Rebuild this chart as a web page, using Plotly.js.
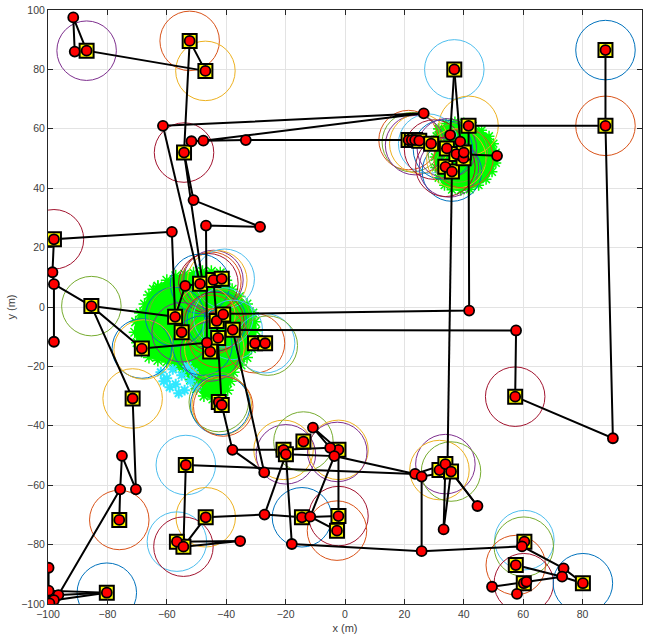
<!DOCTYPE html>
<html><head><meta charset="utf-8">
<script src="https://cdn.plot.ly/plotly-3.0.1.min.js"></script>
<style>html,body{margin:0;padding:0;background:#fff}#plot{width:649px;height:638px}</style>
</head><body><div id="plot"></div>
<script>
// ---- trajectory (strokes separated by null) ----
const pathX = [-91,-91.5,-87,-47,-52.3,-54.2,-51,-28.6,-46.8,-46.5,null,
  -61.3,26.5,-47.7,-33.4,21.4,null, -51.7,-47.7,null,
  -61.3,-48.8,null, -54.2,-48,null,
  -98,-98,-98.5,-98,-58.3,-57.2,-53.8,-48.8,null,
  -98,-85.4,-68.4,-46.5,null, -85.4,-57.2,null,
  -85.4,-71.5,-70.4,-75.1,-75.7,-76,null,
  -75.7,-96.5,-80.2,-99.8,-99.8,null, -80.2,-98,-99.5,-99.8,null,
  -44.3,-43.2,-41.5,-37.9,-27.2,null,
  -41,41.8,41.6,87.7,87.7,null,
  87.7,90.2,57.3,57.6,-37.8,-27.2,null,
  -37.9,-20.7,-5,-10.8,-2.2,-2.2,null,
  -19.9,-3.6,-11.7,-2.7,null, -3.6,23.6,null,
  -19.9,-17.9,25.8,25.8,35.7,null,
  -53.6,23.6,33.8,44.6,null, 35.7,44.6,null,
  33.2,33.8,null, 33.2,35.7,null, 36,34.5,null,
  -53.6,-54.4,-46.9,-27.1,-14.5,-2.2,null, -27.1,-19.9,null,
  -56.6,-35.3,-54.4,null,
  25.8,59.6,73.6,80.1,73.1,57.5,null, 49.5,61.1,73.1,null, 57.9,60.2,null,
  36.8,35.4,null, 36.8,38.8,null, 51.2,37.5,null, 25,34.3,null];
const pathY = [86,97.5,86.3,79.5,89.6,52,36,27,27.4,-12,null,
  61,65.2,56,56.2,56.2,null, 55.8,56,null,
  61,7.8,null, 52,8.5,null,
  -11.7,7.7,11.7,22.8,25.3,-3.3,7.1,7.8,null,
  7.7,0.3,-14,-12,null, 0.3,-3.3,null,
  0.3,-30.8,-61.4,-50.1,-61.4,-71.7,null,
  -61.4,-97,-96.2,-95.5,-87.8,null, -96.2,-98.7,-99.8,-95.5,null,
  9.1,-4.7,-33,-48.1,-55.7,null,
  -2.3,-1.2,61,61,86.5,null,
  61,-44.2,-30.2,-7.9,-7.7,-55.7,null,
  -48.1,-48.1,-47.4,-40.6,-48.1,-70.4,null,
  -49.6,-50.2,-70.6,-75.3,null, -50.2,-56.2,null,
  -49.6,-79.8,-82.2,-57.1,-55.4,null,
  -53.2,-56.2,-52.9,-67,null, -55.4,-67,null,
  -74.9,-52.9,null, -74.9,-55.4,null, 45.6,-53.5,null,
  -53.2,-80.7,-70.8,-69.9,-70.8,-70.4,null, -69.9,-49.6,null,
  -79,-78.8,-80.7,null,
  -82.2,-80.6,-88,-93,-90.8,-86.9,null, -94.2,-92.5,-90.8,null, -96.6,-93,null,
  80,57.9,null, 80,55.7,null, 50.9,51.5,null, 56,53.4,null];

// ---- yellow square targets ----
const sqX = [-87,-52.3,-47,-54.2,36.8,87.7,87.7,41.6,-98,-85.4,-68.4,-71.5,57.3,-76,-80.2,-53.6,-46.9,-56.6,-54.4,
  -20.7,-19.9,-14,-2.2,-14.5,-2.2,-2.7,31.8,33.8,35.7,60.4,57.5,60.2,80.1,
  -57.2,-55,-48.8,-44.3,-41.5,-43.2,-41,-37.8,-42.7,-45.4,-30.3,-26.9,-42.5,-41.5,
  21.4,22.5,23.6,25,29,34.3,33.8,36,37.5,39.9,40];
const sqY = [86.3,89.6,79.5,52,80,86.5,61,61,22.8,0.3,-14,-30.8,-30.2,-71.7,-96.2,-53.2,-70.8,-79,-80.7,
  -48.1,-49.6,-45.3,-48.1,-70.8,-70.4,-75.3,-54.9,-52.9,-55.4,-79,-86.9,-93,-93,
  -3.3,-8.5,7.8,9.1,9.5,-4.7,-2.5,-7.7,-10.4,-15,-12.2,-12.2,-32,-33,
  56.2,56.2,56.2,56,55,53.4,47.2,45.6,51.5,50.1,52];

// ---- red waypoints (not on squares) ----
const wpX = [-91.5,-91,-61.3,-51.7,-47.7,-33.4,-51,-46.8,-28.6,-58.3,-98.5,-98,-98,-53.8,-46.5,26.5,35.4,38.8,51.2,
  41.8,57.6,90.2,-75.1,-75.7,-70.4,-99.8,-99.8,-96.5,-98,-99.5,-37.9,-27.2,-10.8,-5,-3.6,-27.1,-11.7,-35.3,-17.9,
  23.6,25.8,25.8,33.2,44.6,59.6,49.5,57.9,73.6,73.1,61.1];
const wpY = [97.5,86,61,55.8,56,56.2,36,27.4,27,25.3,11.7,7.7,-11.7,7.1,-12,65.2,57.9,55.7,50.9,
  -1.2,-7.9,-44.2,-50.1,-61.4,-61.4,-87.8,-95.5,-97,-98.7,-99.8,-48.1,-55.7,-40.6,-47.4,-50.2,-69.9,-70.6,-78.8,-79.8,
  -56.2,-57.1,-82.2,-74.9,-67,-80.6,-94.2,-96.6,-88,-90.8,-92.5];

// ---- range circles (radius 10 m) ----
const cX = [-87,-52.3,-47,-54.2,36.8,87.7,87.7,41.6,-98,-85.4,-68.4,-67.8,-71.5,57.3,-76,-80.2,-53.6,-46.9,-56.6,-54.4,
  -20.7,-19.9,-14,-2.2,-2.6,-14.5,-2.2,-2.7,33.8,31.8,35.7,60.4,60.2,57.5,60.2,80.1,
  -44.3,-45,-43,-40.5,-46,-48.8,-43.2,-42,-41,-44,-47,-45,-57.2,-56,-55,-37.8,-42.7,-45.4,-44,-48,-30.3,-26.9,-26,-41.5,-42.5,-42,-41,
  21.4,22.5,23.6,25,28,30,33,34.3,36,35,37.5,39.9,38,33.8];
const cY = [86.3,89.6,79.5,52,80,86.5,61,61,22.8,0.3,-14,-14.3,-30.8,-30.2,-71.7,-96.2,-53.2,-70.8,-79,-80.7,
  -48.1,-49.6,-45.3,-48.1,-48.8,-70.8,-70.4,-75.3,-52.9,-54.9,-55.4,-78.5,-80.7,-86.9,-93,-93,
  9.1,8.5,9,9.5,8,7.8,-4.7,-4,-3.5,-5,-3,-6,-3.3,-3,-8.5,-7.7,-10.4,-15,-14,-13,-12.2,-12.2,-13,-33,-32,-33,-33.5,
  56.2,55.5,54.5,55,55,53,53,53.4,45.6,47,50,50.1,52,47.2];
const cC = ['#7E2F8E','#D95319','#EDB120','#A2142F','#4DBEEE','#0072BD','#D95319','#EDB120','#A2142F','#77AC30','#0072BD','#EDB120','#EDB120','#A2142F','#D95319','#0072BD','#4DBEEE','#EDB120','#4DBEEE','#A2142F',
  '#EDB120','#7E2F8E','#77AC30','#EDB120','#7E2F8E','#0072BD','#A2142F','#D95319','#7E2F8E','#EDB120','#77AC30','#4DBEEE','#77AC30','#D95319','#A2142F','#0072BD',
  '#7E2F8E','#D95319','#EDB120','#4DBEEE','#A2142F','#0072BD','#0072BD','#77AC30','#4DBEEE','#A2142F','#EDB120','#D95319','#0072BD','#77AC30','#7E2F8E','#4DBEEE','#D95319','#7E2F8E','#EDB120','#0072BD','#D95319','#4DBEEE','#77AC30','#EDB120','#77AC30','#0072BD','#D95319',
  '#D95319','#77AC30','#7E2F8E','#EDB120','#4DBEEE','#A2142F','#0072BD','#7E2F8E','#0072BD','#7E2F8E','#EDB120','#D95319','#77AC30','#A2142F'];

// ---- particle clouds (outline of the dense particle sets) ----
const g1X = [-63,-60,-57,-54,-51,-48,-45,-42,-40,-38,-35.5,-33,-31,-30.3,-30,-30.5,-31.5,-33,-35,-37.5,-38.5,-39.5,-41.5,-44.5,-47.5,-50,-52,-54,-57,-60,-63,-66,-68.5,-70,-70.8,-70.5,-69,-67.5,-66,-64.5,-63];
const g1Y = [7,9,10.5,11,11.5,12,12,11.5,9,6,3.5,1,-2,-5,-8,-11,-14,-17,-19.5,-22,-25,-28,-30.5,-31,-30,-27.5,-24.5,-22,-20,-18.5,-18,-17,-15,-12,-8.5,-5,-2,1,4,6,7];
const g2X = [31.5,34,37,40,43,46,48.5,50,50.8,50.8,49.5,47.5,45,42,39,36,33.5,31.5,30.5,30.3,30.5,30.8,31.5];
const g2Y = [60,61.8,62.3,62,61,59.5,57.5,55,52,48.5,45.5,43,41,39.6,39.3,39.5,41,43.5,47,50.5,54,57.5,60];
const cyX = [-62,-60,-58,-57,-55,-54,-52,-51,-59,-56,-61,-53,-50];
const cyY = [-22,-24,-21,-26,-23,-28,-25,-22,-27,-29,-25,-20,-27];

const lime = '#00ff00';
const FONT = 'Liberation Sans, Arial, sans-serif';
const traces = [
  {x:g1X,y:g1Y,type:'scatter',mode:'lines+markers',fill:'toself',fillcolor:lime,
   line:{color:lime,width:1},marker:{symbol:'asterisk-open',size:10,color:lime,line:{color:lime,width:1.5}},hoverinfo:'skip'},
  {x:g2X,y:g2Y,type:'scatter',mode:'lines+markers',fill:'toself',fillcolor:lime,
   line:{color:lime,width:1},marker:{symbol:'asterisk-open',size:9,color:lime,line:{color:lime,width:1.5}},hoverinfo:'skip'},
  {x:cyX,y:cyY,type:'scatter',mode:'markers',
   marker:{symbol:'asterisk-open',size:9,color:'#30e8ff',line:{color:'#30e8ff',width:2}},hoverinfo:'skip'},
  {x:cX,y:cY,type:'scatter',mode:'markers',
   marker:{symbol:'circle-open',size:59.5,color:cC,line:{width:1}},hoverinfo:'skip'},
  {x:pathX,y:pathY,type:'scatter',mode:'lines',connectgaps:false,line:{color:'#000',width:2}},
  {x:sqX,y:sqY,type:'scatter',mode:'markers',
   marker:{symbol:'square',size:14,color:'#ffff00',line:{color:'#000',width:2}}},
  {x:sqX.concat(wpX),y:sqY.concat(wpY),type:'scatter',mode:'markers',
   marker:{symbol:'circle',size:10,color:'#ff0000',line:{color:'#000',width:1.8}}}
];

const axBase = {range:[-100,100],dtick:20,tick0:-100,showgrid:true,gridcolor:'#e3e3e3',gridwidth:1,
  zeroline:false,showline:true,linecolor:'#262626',linewidth:1,mirror:'ticks',ticks:'inside',ticklen:5,
  tickcolor:'#262626',tickfont:{family:FONT,size:10.5,color:'#404040'},
  automargin:false,fixedrange:true};

const layout = {
  width:649,height:638,margin:{l:48,r:7,t:10,b:34},
  paper_bgcolor:'#fff',plot_bgcolor:'#fff',showlegend:false,
  xaxis:Object.assign({},axBase,{title:{text:'x (m)',standoff:5,font:{family:FONT,size:11,color:'#404040'}}}),
  yaxis:Object.assign({},axBase,{title:{text:'y (m)',standoff:3,font:{family:FONT,size:11,color:'#404040'}}})
};
Plotly.newPlot('plot',traces,layout,{displayModeBar:false,staticPlot:true});
</script></body></html>
